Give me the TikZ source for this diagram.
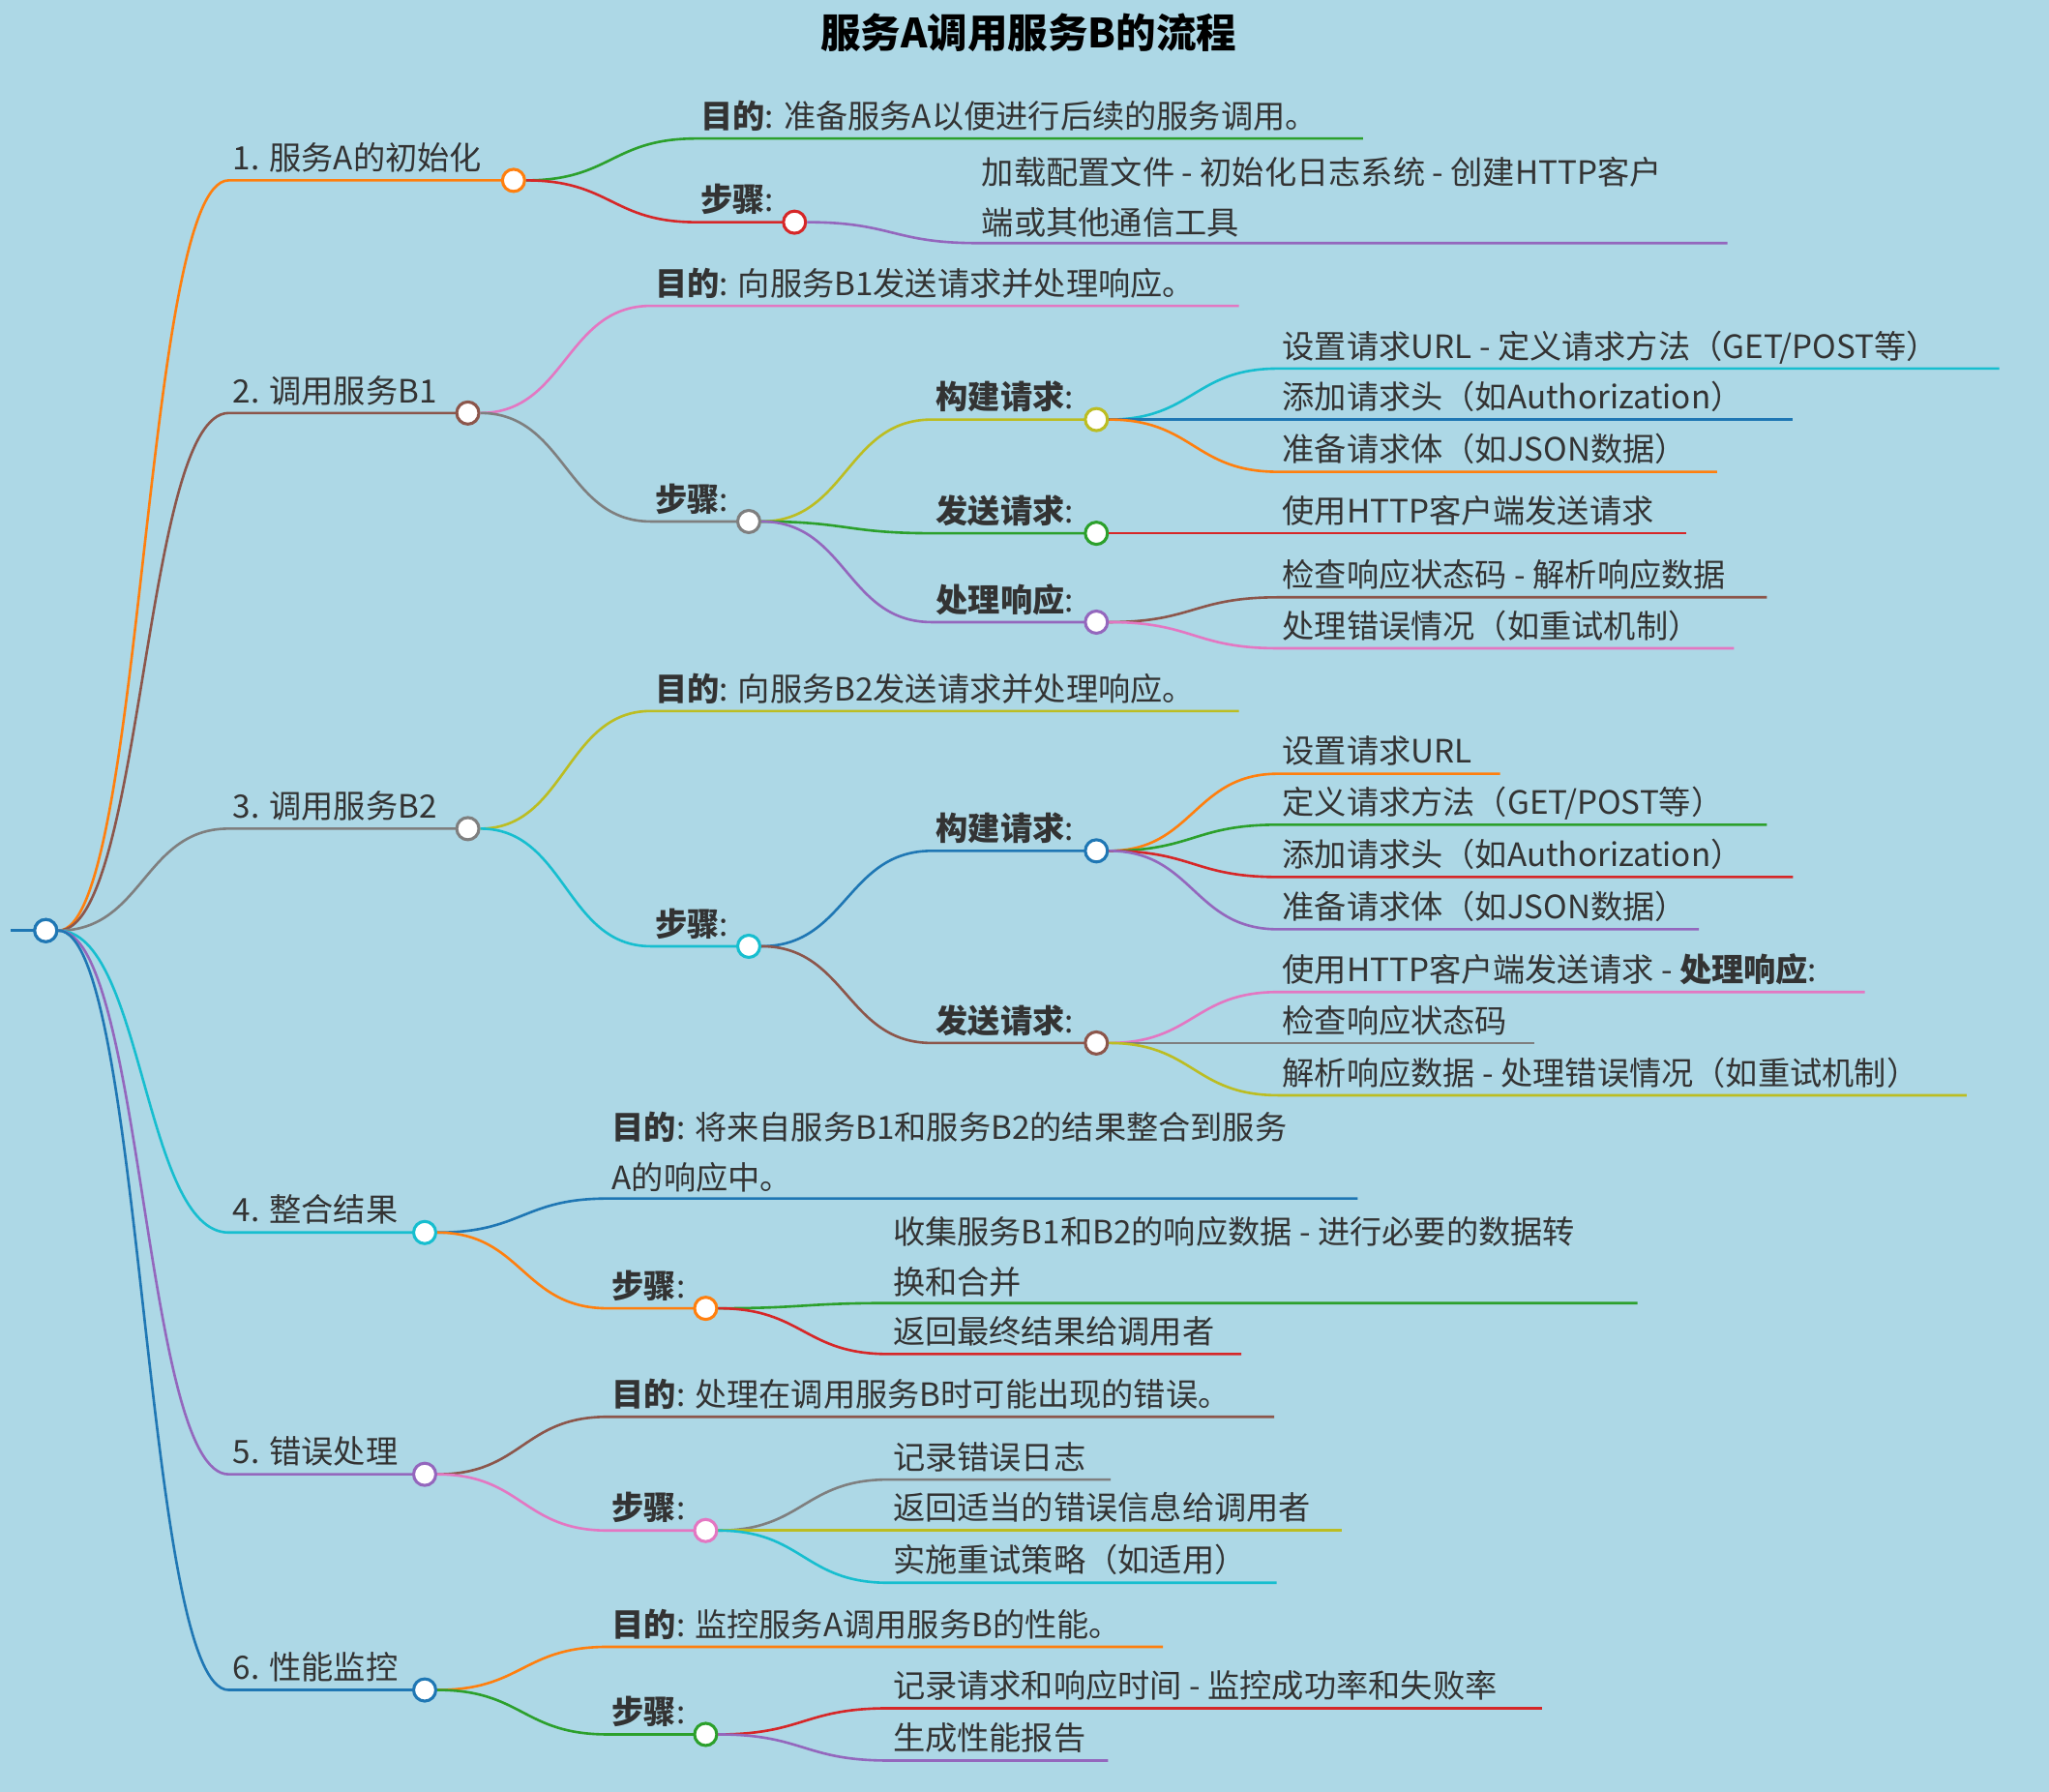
\documentclass[tikz,border=0pt]{standalone}
\usepackage{fontspec}
\setmainfont{Noto Sans CJK SC}
\usetikzlibrary{calc}

\definecolor{bg}{RGB}{173,216,230}
\definecolor{cblue}{HTML}{1F77B4}
\definecolor{corange}{HTML}{FF7F0E}
\definecolor{cgreen}{HTML}{2CA02C}
\definecolor{cred}{HTML}{D62728}
\definecolor{cpurple}{HTML}{9467BD}
\definecolor{cbrown}{HTML}{8C564B}
\definecolor{cpink}{HTML}{E377C2}
\definecolor{cgray}{HTML}{7F7F7F}
\definecolor{colive}{HTML}{BCBD22}
\definecolor{ccyan}{HTML}{17BECF}
\definecolor{ink}{HTML}{333333}

\tikzset{
  edge/.style={line width=1.1pt},
  fork/.style={circle, draw, fill=white, line width=1.3pt, minimum size=0.34cm, inner sep=0pt},
  label/.style={anchor=base west, inner sep=0pt, text=ink, font=\fontsize{14}{18}\selectfont},
  label2/.style={anchor=south west, inner sep=0pt, text=ink, align=left, font=\fontsize{14}{22}\selectfont}
}

% colour, parent, name, x start, y, x end
\newcommand\mmedge[6]{%
  \coordinate (#3s) at (#4,#5);
  \coordinate (#3) at (#6,#5);
  \draw[edge,#1] let \p1=(#2.east), \p2=(#3s) in
    (\p1) .. controls ({(\x1+\x2)/2},\y1) and ({(\x1+\x2)/2},\y2) .. (\p2) -- (#3);
}
\newcommand\mmleaf[7]{\mmedge{#1}{#2}{#3}{#4}{#5}{#6}
  \node[label] (#3t) at ($(#3s)+(3,-8)$) {#7};}
\newcommand\mmleaftwo[7]{\mmedge{#1}{#2}{#3}{#4}{#5}{#6}
  \node[label2] (#3t) at ($(#3s)+(3,-4)$) {#7};}
\newcommand\mmfork[7]{\mmedge{#1}{#2}{#3}{#4}{#5}{#6}
  \node[label] (#3t) at ($(#3s)+(3,-8)$) {#7};
  \node[fork, draw=#1] (#3c) at (#3) {};}

\begin{document}
\begin{tikzpicture}[x=0.02cm, y=-0.02cm]
\fill[bg] (0,0) rectangle (1568,1371);
\useasboundingbox (0,0) rectangle (1568,1371);

\node[text=black, font=\fontsize{17.5}{20}\selectfont\bfseries] (title) at (787,25) {服务A调用服务B的流程};

\coordinate (rootw) at (8,712);
\coordinate (rootp) at (35,712);
\draw[edge,cblue] (rootw) -- (rootp);
\node[fork, draw=cblue] (root) at (rootp) {};

% 1
\mmfork{corange}{root}{a}{175}{138}{393}{1. 服务A的初始化}
\mmleaf{cgreen}{ac}{aa}{533}{106}{1043}{\textbf{目的}: 准备服务A以便进行后续的服务调用。}
\mmfork{cred}{ac}{ab}{533}{170}{608}{\textbf{步骤}:}
\mmleaftwo{cpurple}{abc}{aba}{748}{186}{1322}{加载配置文件 - 初始化日志系统 - 创建HTTP客户\\端或其他通信工具}

% 2
\mmfork{cbrown}{root}{b}{175}{316}{358}{2. 调用服务B1}
\mmleaf{cpink}{bc}{ba}{498}{234}{948}{\textbf{目的}: 向服务B1发送请求并处理响应。}
\mmfork{cgray}{bc}{bb}{498}{399}{573}{\textbf{步骤}:}
\mmfork{colive}{bbc}{bba}{713}{321}{839}{\textbf{构建请求}:}
\mmleaf{ccyan}{bbac}{bbaa}{978}{282}{1530}{设置请求URL - 定义请求方法（GET/POST等）}
\mmleaf{cblue}{bbac}{bbab}{978}{321}{1372}{添加请求头（如Authorization）}
\mmleaf{corange}{bbac}{bbad}{978}{361}{1314}{准备请求体（如JSON数据）}
\mmfork{cgreen}{bbc}{bbb}{713}{408}{839}{\textbf{发送请求}:}
\mmleaf{cred}{bbbc}{bbba}{978}{408}{1290}{使用HTTP客户端发送请求}
\mmfork{cpurple}{bbc}{bbd}{713}{476}{839}{\textbf{处理响应}:}
\mmleaf{cbrown}{bbdc}{bbda}{978}{457}{1352}{检查响应状态码 - 解析响应数据}
\mmleaf{cpink}{bbdc}{bbdb}{978}{496}{1327}{处理错误情况（如重试机制）}

% 3
\mmfork{cgray}{root}{c}{175}{634}{358}{3. 调用服务B2}
\mmleaf{colive}{cc}{ca}{498}{544}{948}{\textbf{目的}: 向服务B2发送请求并处理响应。}
\mmfork{ccyan}{cc}{cb}{498}{724}{573}{\textbf{步骤}:}
\mmfork{cblue}{cbc}{cba}{713}{651}{839}{\textbf{构建请求}:}
\mmleaf{corange}{cbac}{cbaa}{978}{592}{1148}{设置请求URL}
\mmleaf{cgreen}{cbac}{cbab}{978}{631}{1352}{定义请求方法（GET/POST等）}
\mmleaf{cred}{cbac}{cbad}{978}{671}{1372}{添加请求头（如Authorization）}
\mmleaf{cpurple}{cbac}{cbae}{978}{711}{1300}{准备请求体（如JSON数据）}
\mmfork{cbrown}{cbc}{cbb}{713}{798}{839}{\textbf{发送请求}:}
\mmleaf{cpink}{cbbc}{cbba}{978}{759}{1427}{使用HTTP客户端发送请求 - \textbf{处理响应}:}
\mmleaf{cgray}{cbbc}{cbbb}{978}{798}{1174}{检查响应状态码}
\mmleaf{colive}{cbbc}{cbbd}{978}{838}{1505}{解析响应数据 - 处理错误情况（如重试机制）}

% 4
\mmfork{ccyan}{root}{d}{175}{943}{325}{4. 整合结果}
\mmleaftwo{cblue}{dc}{da}{465}{917}{1039}{\textbf{目的}: 将来自服务B1和服务B2的结果整合到服务\\A的响应中。}
\mmfork{corange}{dc}{db}{465}{1001}{540}{\textbf{步骤}:}
\mmleaftwo{cgreen}{dbc}{dba}{680}{997}{1253}{收集服务B1和B2的响应数据 - 进行必要的数据转\\换和合并}
\mmleaf{cred}{dbc}{dbb}{680}{1036}{950}{返回最终结果给调用者}

% 5
\mmfork{cpurple}{root}{e}{175}{1128}{325}{5. 错误处理}
\mmleaf{cbrown}{ec}{ea}{465}{1084}{975}{\textbf{目的}: 处理在调用服务B时可能出现的错误。}
\mmfork{cpink}{ec}{eb}{465}{1171}{540}{\textbf{步骤}:}
\mmleaf{cgray}{ebc}{eba}{680}{1132}{850}{记录错误日志}
\mmleaf{colive}{ebc}{ebb}{680}{1171}{1027}{返回适当的错误信息给调用者}
\mmleaf{ccyan}{ebc}{ebd}{680}{1211}{977}{实施重试策略（如适用）}

% 6
\mmfork{cblue}{root}{f}{175}{1293}{325}{6. 性能监控}
\mmleaf{corange}{fc}{fa}{465}{1260}{890}{\textbf{目的}: 监控服务A调用服务B的性能。}
\mmfork{cgreen}{fc}{fb}{465}{1327}{540}{\textbf{步骤}:}
\mmleaf{cred}{fbc}{fba}{680}{1307}{1180}{记录请求和响应时间 - 监控成功率和失败率}
\mmleaf{cpurple}{fbc}{fbb}{680}{1347}{848}{生成性能报告}

\node[fork, draw=cblue] at (rootp) {};
\end{tikzpicture}
\end{document}
